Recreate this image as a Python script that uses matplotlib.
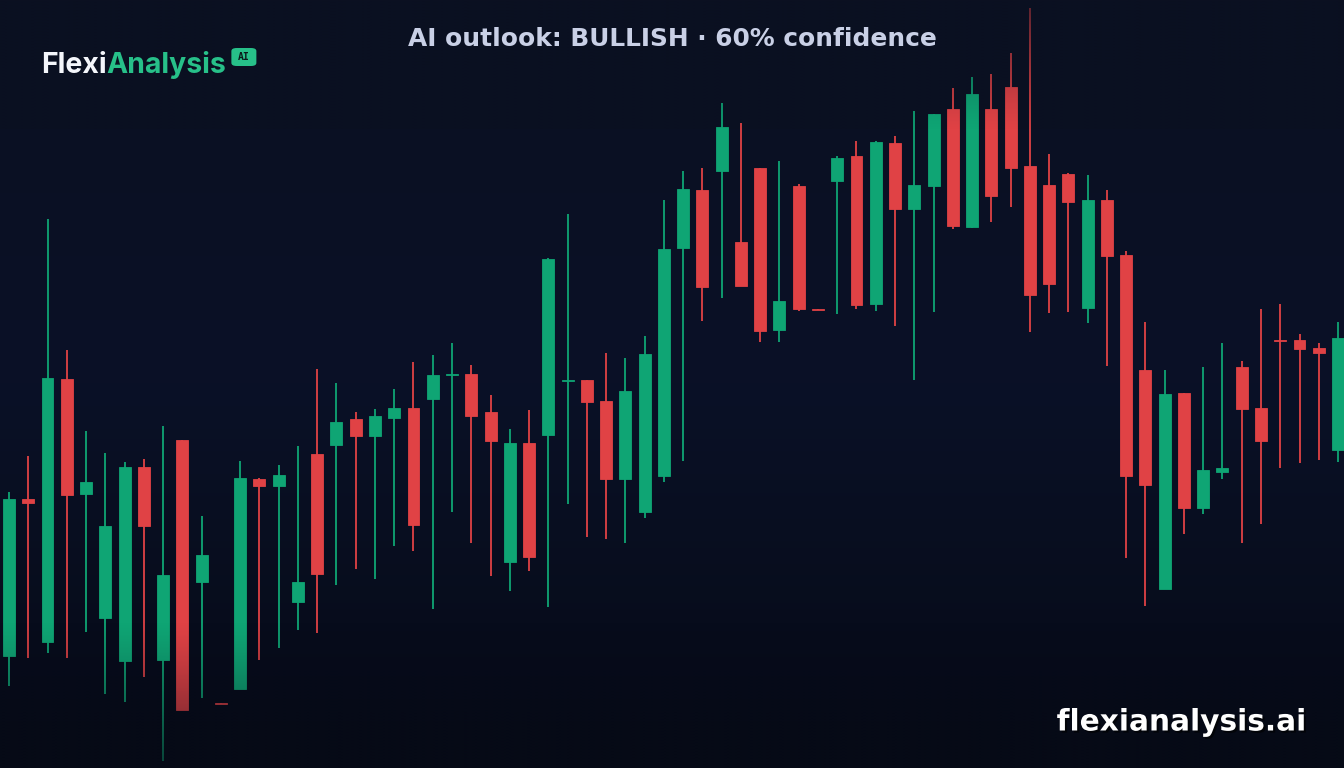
import matplotlib
matplotlib.use("Agg")
import matplotlib.pyplot as plt
import numpy as np
from matplotlib.patches import FancyBboxPatch
import matplotlib.patheffects as pe

# ---- data (OHLC) ----
opens = [14.4, 30.1, 15.8, 42.1, 30.6, 18.2, 13.9, 33.3, 14.0, 36.0,
         21.8, 9.7, 11.1, 32.1, 31.4, 19.8, 34.6, 35.5, 38.1, 36.4,
         38.2, 39.2, 40.1, 42.5, 42.6, 38.8, 23.8, 35.7, 36.5, 41.9,
         42.0, 39.9, 32.1, 28.8, 32.4, 55.2, 61.0, 62.9, 55.8, 63.2,
         47.0, 61.4, 49.1, 61.9, 64.4, 49.6, 65.7, 59.1, 61.4, 69.1,
         57.3, 69.1, 71.3, 63.4, 61.5, 62.6, 49.2, 60.0, 54.5, 43.0,
         21.1, 40.7, 29.2, 32.8, 43.3, 39.2, 46.0, 46.0, 45.2, 35.0]
highs = [30.8, 34.4, 58.1, 45.0, 36.9, 34.7, 33.8, 34.1, 37.4, 36.0,
         28.4, 9.7, 33.9, 32.2, 33.5, 35.4, 43.1, 41.7, 38.8, 39.1,
         41.1, 43.8, 44.5, 45.7, 43.5, 40.5, 37.1, 39.0, 54.2, 58.6,
         42.0, 44.7, 44.2, 46.4, 60.0, 62.9, 63.2, 69.7, 67.7, 63.2,
         63.9, 61.6, 49.1, 64.4, 65.9, 65.9, 66.4, 68.9, 68.6, 71.2,
         72.3, 72.6, 74.7, 79.2, 64.6, 62.7, 62.5, 61.0, 54.9, 47.8,
         43.0, 40.7, 43.3, 45.7, 43.9, 49.1, 49.6, 46.6, 45.7, 47.8]
lows = [11.4, 14.2, 14.7, 14.2, 16.8, 10.6, 9.8, 12.3, 3.9, 9.0,
        10.2, 9.6, 11.1, 14.0, 15.2, 17.0, 16.7, 21.5, 23.1, 22.1,
        25.4, 24.9, 19.1, 28.8, 25.7, 22.4, 20.9, 22.9, 19.3, 29.6,
        26.3, 26.1, 25.7, 28.2, 31.8, 33.9, 47.9, 50.2, 51.4, 45.8,
        45.8, 48.9, 49.0, 48.6, 49.1, 48.9, 47.4, 42.0, 48.8, 57.1,
        57.2, 57.8, 59.3, 46.8, 48.7, 48.8, 47.7, 43.4, 24.2, 19.4,
        21.1, 26.6, 28.6, 32.1, 25.7, 27.6, 33.2, 33.7, 34.0, 33.8]
closes = [30.1, 29.7, 42.2, 30.5, 31.8, 27.4, 33.3, 27.4, 22.5, 9.0,
          24.5, 9.6, 32.2, 31.4, 32.5, 21.8, 22.6, 37.8, 36.4, 38.4,
          39.2, 27.5, 42.5, 42.6, 38.4, 35.9, 35.7, 24.3, 54.1, 42.0,
          39.8, 32.1, 40.9, 44.6, 55.1, 61.1, 51.3, 67.3, 51.4, 46.9,
          49.9, 49.1, 49.0, 64.2, 49.5, 65.8, 59.1, 61.5, 68.6, 57.4,
          70.6, 60.4, 63.2, 50.5, 51.6, 59.8, 60.0, 54.4, 32.4, 31.5,
          40.6, 29.2, 33.0, 33.2, 39.1, 35.9, 45.9, 45.1, 44.7, 46.2]

title_text = "AI outlook: BULLISH · 60% confidence"
brand_a = "Flexi"
brand_b = "Analysis"
badge_text = "AI"
watermark = "flexianalysis.ai"

# ---- style ----
W, H, DPI = 1344, 768, 100
UP = "#0fa574"
DOWN = "#e04245"
BG_TOP = np.array([11, 16, 33]) / 255
BG_MID = np.array([10, 17, 39]) / 255
BG_BOT = np.array([6, 10, 22]) / 255

fig = plt.figure(figsize=(W / DPI, H / DPI), dpi=DPI)
ax = fig.add_axes([0, 0, 1, 1])
ax.set_axis_off()

# background gradient
n = 256
t = np.linspace(0, 1, n)[:, None]
col = np.where(t < 0.5, BG_TOP + (BG_MID - BG_TOP) * (t / 0.5),
               BG_MID + (BG_BOT - BG_MID) * ((t - 0.5) / 0.5))
img = np.repeat(col[:, None, :], 2, axis=1).reshape(n, 2, 3)
ax.imshow(img, extent=[0, 1, 0, 1], transform=ax.transAxes, aspect="auto",
          zorder=0, interpolation="bilinear")

x = np.arange(len(opens))
o = np.array(opens); c = np.array(closes)
h = np.array(highs); l = np.array(lows)
up = c >= o
colors = np.where(up, UP, DOWN)

ax.vlines(x, l, h, colors=colors, linewidth=1.3, zorder=2)
bottoms = np.minimum(o, c)
heights = np.maximum(np.abs(c - o), 0.12)
ax.bar(x, heights, bottom=bottoms, width=0.62, color=colors,
       edgecolor=colors, linewidth=0.6, zorder=3)

# fade overlays (top and bottom)
fade = np.zeros((n, 2, 4))
fade[..., :3] = BG_BOT
yy = np.linspace(1, 0, n)  # top -> bottom in axes frac
alpha = np.zeros(n)
top_zone = yy > 0.83
alpha[top_zone] = 0.6 * ((yy[top_zone] - 0.83) / 0.17) ** 1.3
bot_zone = yy < 0.19
alpha[bot_zone] = 0.6 * ((0.19 - yy[bot_zone]) / 0.19) ** 1.2
fade[..., 3] = alpha[:, None]
fade[:int(n * 0.5), :, :3] = BG_TOP
ax.imshow(fade, extent=[0, 1, 0, 1], transform=ax.transAxes, aspect="auto",
          zorder=4, interpolation="bilinear")
ax.set_xlim(-0.467, 69.31)
ax.set_ylim(3.2, 80.0)

renderer = fig.canvas.get_renderer()

def fit_width(txt, target_px):
    bb = txt.get_window_extent(renderer)
    txt.set_fontsize(txt.get_fontsize() * target_px / bb.width)

# title
tt = fig.text(0.5, 1 - 39 / H, title_text, ha="center", va="center",
              fontsize=18, fontweight="bold", color="#c9d0e6",
              family="DejaVu Sans", zorder=10)
fit_width(tt, 529)

# brand
ta = fig.text(41 / W, 1 - 73 / H, brand_a, ha="left", va="baseline",
              fontsize=22, fontweight="bold", color="#f4f6fb",
              family="Inter", zorder=10)
tb = fig.text(0, 1 - 73 / H, brand_b, ha="left", va="baseline",
              fontsize=22, fontweight="bold", color="#27c089",
              family="Inter", zorder=10)
wa = ta.get_window_extent(renderer).width
wb = tb.get_window_extent(renderer).width
scale = 185 / (wa + wb)
ta.set_fontsize(22 * scale)
tb.set_fontsize(22 * scale)
bb = ta.get_window_extent(renderer)
tb.set_x(bb.x1 / W)
bb2 = tb.get_window_extent(renderer)
bx0 = bb2.x1 + 5
badge = FancyBboxPatch((bx0 / W, 1 - 66 / H), 25 / W, 18 / H,
                       boxstyle="round,pad=0,rounding_size=0.004",
                       transform=fig.transFigure, facecolor="#27c089",
                       edgecolor="none", zorder=10)
fig.patches.append(badge)
fig.text((bx0 + 12.5) / W, 1 - 57.5 / H, badge_text, ha="center", va="center",
         fontsize=7, fontweight="bold", color="#0b1a1a",
         family="DejaVu Sans Mono", zorder=11)

# watermark
tw = fig.text(1306 / W, 1 - 722 / H, watermark, ha="right", va="center",
              fontsize=21, fontweight="bold", color="#ffffff",
              family="DejaVu Sans", zorder=10,
              path_effects=[pe.withSimplePatchShadow(offset=(1.5, -1.5),
                                                     shadow_rgbFace="#000000",
                                                     alpha=0.6)])
fit_width(tw, 250)

fig.savefig("out.png", dpi=DPI, facecolor=BG_MID)
